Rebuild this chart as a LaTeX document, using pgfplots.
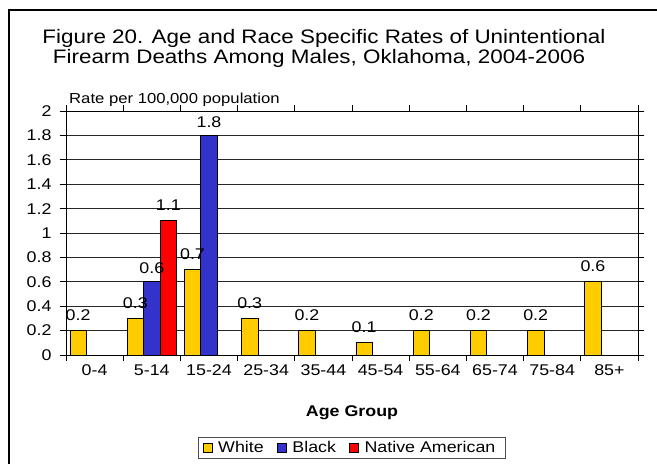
\documentclass[border=0pt]{standalone}
\usepackage{fontspec}
\setmainfont[FakeStretch=1.15]{Liberation Sans}
\usepackage{pgfplots}
\pgfplotsset{compat=1.18}
\definecolor{cwhite}{HTML}{FFCC00}
\definecolor{cblack}{HTML}{3333CC}
\definecolor{cnative}{HTML}{FF0000}

\begin{document}
\begin{tikzpicture}
\useasboundingbox (0,0) rectangle (657bp,464bp);
% chart frame (only left and top edges are in the picture)
\draw[line width=1.6bp] (9bp,-2bp) -- (9bp,454bp) -- (659bp,454bp);
\node[anchor=base, inner sep=0pt, font=\fontsize{19.5bp}{21bp}\selectfont] at (324bp,420.5bp)
  {Figure 20. Age and Race Specific Rates of Unintentional};
\node[anchor=base, inner sep=0pt, font=\fontsize{19.5bp}{21bp}\selectfont] at (319bp,400bp)
  {Firearm Deaths Among Males, Oklahoma, 2004-2006};
\node[anchor=base west, inner sep=0pt, font=\fontsize{14.5bp}{17bp}\selectfont]
  at (69bp,360bp) {Rate per 100,000 population};

\begin{axis}[
    at={(66bp,109bp)}, anchor=south west,
    scale only axis, width=572bp, height=244bp,
    xmin=-0.5, xmax=9.5, ymin=0, ymax=2,
    xtick={0,1,2,3,4,5,6,7,8,9},
    xticklabels={0-4,5-14,15-24,25-34,35-44,45-54,55-64,65-74,75-84,85+},
    minor xtick={-0.5,0.5,1.5,2.5,3.5,4.5,5.5,6.5,7.5,8.5,9.5},
    ytick={0,0.2,0.4,0.6,0.8,1,1.2,1.4,1.6,1.8,2},
    tick align=outside,
    major tick length=6bp, minor tick length=6bp,
    x tick style={draw=none},
    minor x tick style={draw=black, line width=0.8bp},
    y tick style={draw=black, line width=0.8bp},
    tick label style={font=\fontsize{15.5bp}{18bp}\selectfont},
    /pgf/number format/assume math mode=true,
    yticklabel style={xshift=-5bp, /pgf/number format/fixed, /pgf/number format/precision=1},
    ymajorgrids,
    grid style={black!85, line width=0.7bp},
    axis line style={black, line width=0.8bp},
    xlabel={\textbf{Age Group}},
    xlabel style={at={(rel axis cs:0.5,0)}, anchor=base, yshift=-61.7bp,
                  font=\fontsize{15.5bp}{18bp}\selectfont},
    legend columns=3,
    legend style={at={(0.5,-0.381)}, anchor=center, draw=black!70, line width=0.8bp,
                  font=\fontsize{15.5bp}{18bp}\selectfont,
                  inner xsep=4bp, inner ysep=2bp,
                  nodes={inner xsep=6bp},
                  /tikz/every even column/.append style={column sep=7bp}},
    legend image code/.code={\draw[#1, draw=black, line width=0.6bp] (0bp,-4.5bp) rectangle (9bp,4.5bp);},
    nodes near coords,
    every node near coord/.append style={anchor=base, inner sep=0pt, yshift=10bp,
        font=\fontsize{15.5bp}{18bp}\selectfont,
        /pgf/number format/fixed, /pgf/number format/precision=1},
]
\addplot[ybar, bar width=16.5bp, bar shift=-16.5bp, fill=cwhite, draw=black, line width=0.6bp,
    every node near coord/.append style={xshift=-16.5bp}]
  coordinates {(0,0.2) (1,0.3) (2,0.7) (3,0.3) (4,0.2) (5,0.1) (6,0.2) (7,0.2) (8,0.2) (9,0.6)};
\addplot[ybar, bar width=16.5bp, bar shift=0bp, fill=cblack, draw=black, line width=0.6bp,
    every node near coord/.append style={yshift=-2bp}]
  coordinates {(1,0.6) (2,1.8)};
\addplot[ybar, bar width=16.5bp, bar shift=16.5bp, fill=cnative, draw=black, line width=0.6bp,
    every node near coord/.append style={xshift=16.5bp}]
  coordinates {(1,1.1)};
\legend{White,Black,Native American}
\end{axis}
\end{tikzpicture}
\end{document}
